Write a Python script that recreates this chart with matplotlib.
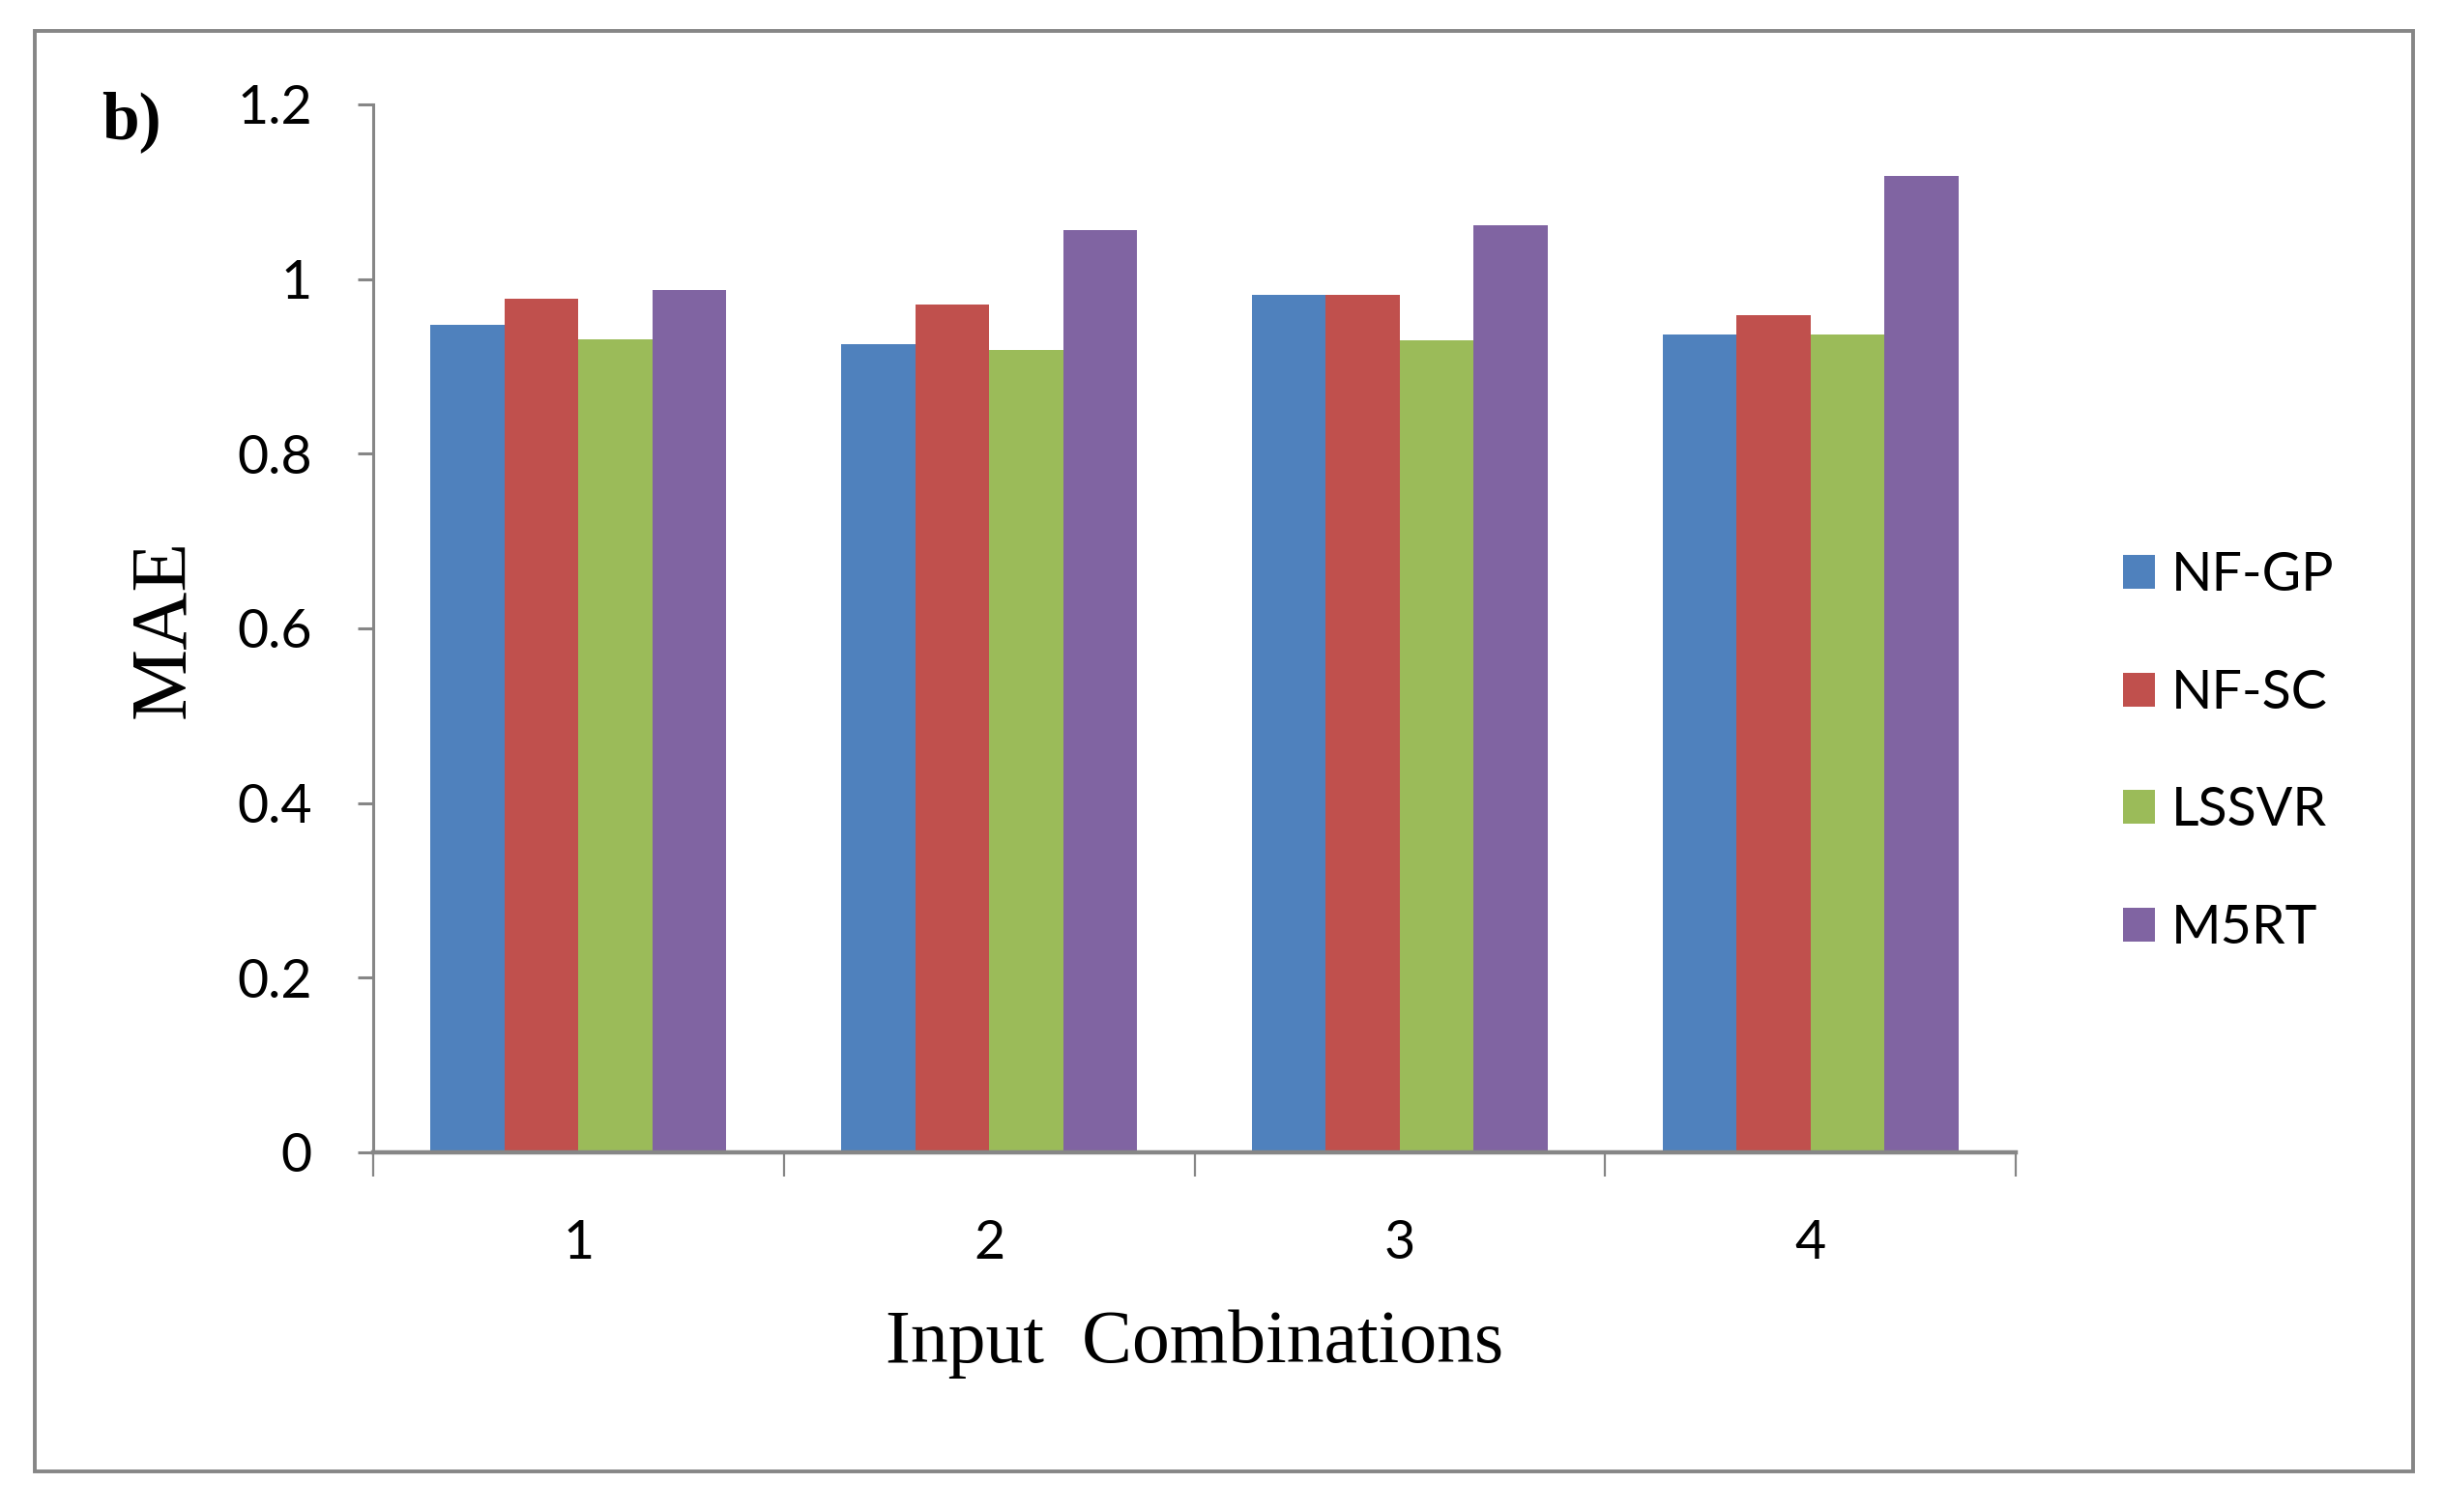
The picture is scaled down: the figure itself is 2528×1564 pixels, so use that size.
import matplotlib
matplotlib.use("Agg")
import matplotlib.pyplot as plt
import numpy as np
from matplotlib.patches import Rectangle

# data
combos = ['1', '2', '3', '4']
methods = ['NF-GP', 'NF-SC', 'LSSVR', 'M5RT']
nf_gp = [0.948, 0.925, 0.982, 0.937]
nf_sc = [0.977, 0.971, 0.982, 0.959]
lssvr = [0.931, 0.919, 0.930, 0.937]
m5rt = [0.988, 1.056, 1.062, 1.118]
yticks = [0, 0.2, 0.4, 0.6, 0.8, 1.0, 1.2]
ytick_labels = ['0', '0.2', '0.4', '0.6', '0.8', '1', '1.2']

colors = ['#4F81BD', '#C0504D', '#9BBB59', '#8064A2']
grey = '#868686'
sans = ['Lato', 'DejaVu Sans']
serif = ['Liberation Serif', 'DejaVu Serif']

W, H = 2528, 1564
fig = plt.figure(figsize=(W / 100, H / 100), dpi=100)

# outer chart frame
fig.patches.append(Rectangle((36 / W, 1 - 1522 / H), (2496 - 36) / W, (1522 - 32) / H,
                             transform=fig.transFigure, fill=False,
                             edgecolor=grey, linewidth=2.8))

ax = fig.add_axes([386 / W, 1 - 1192 / H, (2085 - 386) / W, (1192 - 108) / H])

x = np.arange(1, len(combos) + 1)
width = 0.18
series = [nf_gp, nf_sc, lssvr, m5rt]
for i, (name, vals) in enumerate(zip(methods, series)):
    ax.bar(x + (i - 1.5) * width, vals, width, color=colors[i], label=name,
           linewidth=0)

ax.set_xlim(0.5, 4.5)
ax.set_ylim(0, 1.2)
ax.set_yticks(yticks)
ax.set_yticklabels(ytick_labels, fontsize=40, family=sans)
ax.set_xticks(x)
ax.set_xticklabels(combos, fontsize=40, family=sans)
ax.set_xticks(np.arange(0.5, 4.6, 1.0), minor=True)

ax.tick_params(axis='x', which='major', length=0, pad=50)
ax.tick_params(axis='x', which='minor', length=18, width=1.6, color=grey, direction='out')
ax.tick_params(axis='y', which='major', length=11.5, width=2.2, color=grey, pad=34)

for s in ['top', 'right']:
    ax.spines[s].set_visible(False)
ax.spines['left'].set_color(grey)
ax.spines['left'].set_linewidth(2.2)
ax.spines['bottom'].set_color(grey)
ax.spines['bottom'].set_linewidth(3.2)

ax.set_ylabel('MAE', fontsize=60, family=serif, labelpad=27)
ax.set_xlabel('Input  Combinations', fontsize=56, family=serif, labelpad=30)

fig.text(105 / W, 1 - 126 / H, 'b)', fontsize=50, family=serif, fontweight='bold',
         va='center', ha='left')

fig.legend(loc='center left', bbox_to_anchor=(2196 / W, 1 - 778 / H),
           frameon=False, prop={'family': sans, 'size': 40},
           handlelength=0.6, handleheight=0.6, handletextpad=0.3,
           labelspacing=1.27, borderpad=0, borderaxespad=0)

fig.savefig('out.png', dpi=100)
